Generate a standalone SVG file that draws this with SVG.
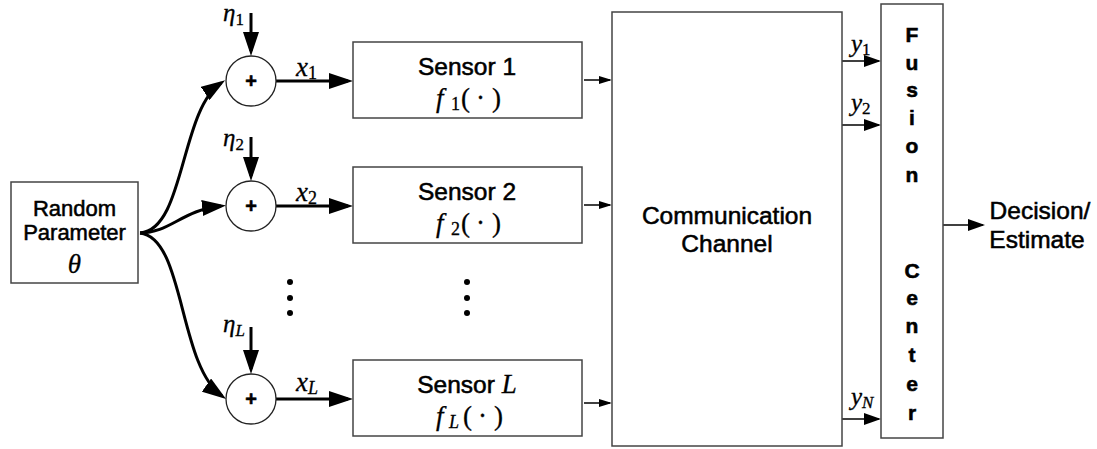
<svg xmlns="http://www.w3.org/2000/svg" width="1097" height="449" viewBox="0 0 1097 449">
<style>
.box{fill:#fff;stroke:#444;stroke-width:1.5}
.circ{fill:#fff;stroke:#222;stroke-width:1.3}
.t{font-family:"Liberation Sans",Arial,sans-serif;fill:#000;stroke:#000;stroke-width:0.55;text-anchor:middle}
.m{font-family:"Liberation Serif","Times New Roman",serif;font-style:italic;fill:#000;stroke:#000;stroke-width:0.3}
.r{font-style:normal}
.thick{fill:none;stroke:#000;stroke-width:3}
.thin{fill:none;stroke:#000;stroke-width:1.5}
</style>
<defs>
<marker id="big" markerUnits="userSpaceOnUse" markerWidth="24" markerHeight="16" viewBox="0 0 24 16" refX="19" refY="8" orient="auto"><path d="M0,0 L24,8 L0,16 z" fill="#000"/></marker>
<marker id="mid" markerUnits="userSpaceOnUse" markerWidth="17" markerHeight="12" viewBox="0 0 17 12" refX="15" refY="6" orient="auto"><path d="M0,0 L17,6 L0,12 z" fill="#000"/></marker>
<marker id="sm" markerUnits="userSpaceOnUse" markerWidth="13" markerHeight="8" viewBox="0 0 13 8" refX="11" refY="4" orient="auto"><path d="M0,0 L13,4 L0,8 z" fill="#000"/></marker>
</defs>
<rect width="1097" height="449" fill="#fff"/>

<g id="connectors">
<path class="thick" d="M140,233 C185,230 180,110 221,83" marker-end="url(#big)"/>
<path class="thick" d="M140,233 C170,233 182,210 221,206" marker-end="url(#big)"/>
<path class="thick" d="M140,233 C185,238 178,365 222,396" marker-end="url(#big)"/>
<path class="thick" d="M251,13 L251,51" marker-end="url(#big)"/>
<path class="thick" d="M251,137 L251,176" marker-end="url(#big)"/>
<path class="thick" d="M251,327 L251,369" marker-end="url(#big)"/>
<path class="thick" d="M276,81 L348,81" marker-end="url(#big)"/>
<path class="thick" d="M276,206 L348,206" marker-end="url(#big)"/>
<path class="thick" d="M276,399 L348,399" marker-end="url(#big)"/>
<path class="thin" d="M584,80 L610,80" marker-end="url(#sm)"/>
<path class="thin" d="M584,205 L610,205" marker-end="url(#sm)"/>
<path class="thin" d="M584,403 L610,403" marker-end="url(#sm)"/>
<path class="thin" d="M842,61 L879,61" marker-end="url(#mid)"/>
<path class="thin" d="M842,125 L879,125" marker-end="url(#mid)"/>
<path class="thin" d="M842,419 L879,419" marker-end="url(#mid)"/>
<path class="thin" d="M943,225 L983,225" marker-end="url(#mid)"/>
</g>

<g id="labels">
<text class="m" x="223" y="21" font-size="25">η<tspan class="r" font-size="17" dy="4">1</tspan></text>
<text class="m" x="223" y="146" font-size="25">η<tspan class="r" font-size="17" dy="4">2</tspan></text>
<text class="m" x="223" y="332" font-size="25">η<tspan font-size="17" dy="4">L</tspan></text>
<text class="m" x="296" y="76" font-size="27">x<tspan class="r" font-size="18" dy="3">1</tspan></text>
<text class="m" x="296" y="201" font-size="27">x<tspan class="r" font-size="18" dy="3">2</tspan></text>
<text class="m" x="296" y="391" font-size="27">x<tspan font-size="18" dy="3">L</tspan></text>
<text class="m" x="851" y="52" font-size="25">y<tspan class="r" font-size="17" dy="3">1</tspan></text>
<text class="m" x="851" y="111" font-size="25">y<tspan class="r" font-size="17" dy="3">2</tspan></text>
<text class="m" x="851" y="405" font-size="25">y<tspan font-size="17" dy="3">N</tspan></text>
</g>

<g id="random">
<rect class="box" x="11" y="182" width="127" height="101"/>
<text class="t" x="74.5" y="216" font-size="22">Random</text>
<text class="t" x="74.5" y="240" font-size="22">Parameter</text>
<text class="m" x="74.5" y="273" font-size="27" text-anchor="middle">θ</text>
</g>

<g id="sum1"><circle class="circ" cx="251" cy="81" r="25"/><text class="t" x="251" y="88" font-size="20" font-weight="bold">+</text></g>
<g id="sum2"><circle class="circ" cx="251" cy="206" r="25"/><text class="t" x="251" y="213" font-size="20" font-weight="bold">+</text></g>
<g id="sumL"><circle class="circ" cx="251" cy="399" r="25"/><text class="t" x="251" y="406" font-size="20" font-weight="bold">+</text></g>

<g id="sensor1">
<rect class="box" x="353" y="42" width="229" height="76"/>
<text class="t" x="467" y="75" font-size="24.5">Sensor 1</text>
<text class="m" font-size="27"><tspan x="436" y="107">f</tspan><tspan class="r" x="451" y="110" font-size="18">1</tspan><tspan class="r" x="461" y="107">(</tspan><tspan class="r" x="476" y="107">·</tspan><tspan class="r" x="492" y="107">)</tspan></text>
</g>
<g id="sensor2">
<rect class="box" x="353" y="167" width="229" height="76"/>
<text class="t" x="467" y="200" font-size="24.5">Sensor 2</text>
<text class="m" font-size="27"><tspan x="436" y="232">f</tspan><tspan class="r" x="451" y="235" font-size="18">2</tspan><tspan class="r" x="461" y="232">(</tspan><tspan class="r" x="476" y="232">·</tspan><tspan class="r" x="492" y="232">)</tspan></text>
</g>
<g id="sensorL">
<rect class="box" x="353" y="360" width="229" height="76"/>
<text class="t" x="467" y="393" font-size="24.5">Sensor <tspan font-family="Liberation Serif,serif" font-style="italic" font-size="27" stroke-width="0.3">L</tspan></text>
<text class="m" font-size="27"><tspan x="436" y="425">f</tspan><tspan x="449" y="428" font-size="18">L</tspan><tspan class="r" x="463" y="425">(</tspan><tspan class="r" x="478" y="425">·</tspan><tspan class="r" x="494" y="425">)</tspan></text>
</g>

<g id="dots">
<circle cx="290" cy="282" r="3"/><circle cx="290" cy="298" r="3"/><circle cx="290" cy="313" r="3"/>
<circle cx="467" cy="282" r="3"/><circle cx="467" cy="298" r="3"/><circle cx="467" cy="313" r="3"/>
</g>

<g id="channel">
<rect class="box" x="612" y="12" width="230" height="434"/>
<text class="t" x="727" y="224" font-size="24.5">Communication</text>
<text class="t" x="727" y="252" font-size="24.5">Channel</text>
</g>

<g id="fusion">
<rect class="box" x="881" y="4" width="62" height="434"/>
<g class="t" font-size="21" font-weight="bold" stroke-width="0.2">
<text x="912" y="42">F</text>
<text x="912" y="70">u</text>
<text x="912" y="97">s</text>
<text x="912" y="125">i</text>
<text x="912" y="153">o</text>
<text x="912" y="182">n</text>
<text x="912" y="278">C</text>
<text x="912" y="305">e</text>
<text x="912" y="333">n</text>
<text x="912" y="362">t</text>
<text x="912" y="391">e</text>
<text x="912" y="420">r</text>
</g>
</g>

<g id="output">
<text class="t" x="1040" y="219" font-size="24.5">Decision/</text>
<text class="t" x="1037" y="248" font-size="24.5">Estimate</text>
</g>
</svg>
